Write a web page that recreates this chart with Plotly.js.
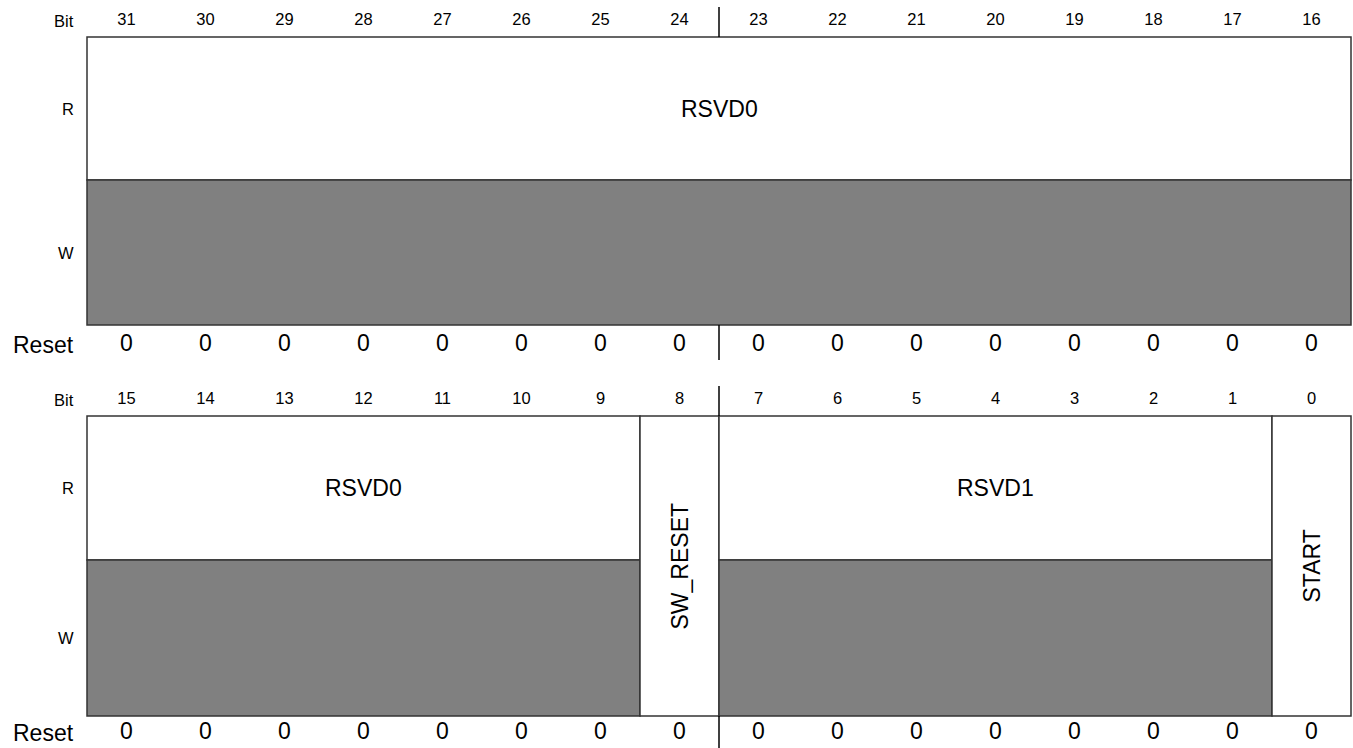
<!DOCTYPE html>
<html>
<head>
<meta charset="utf-8">
<script src="https://cdn.plot.ly/plotly-3.0.1.min.js"></script>
<style>html,body{margin:0;padding:0;background:#fff;}#chart{width:1353px;height:748px;}</style>
</head>
<body>
<div id="chart"></div>
<script>
// ---- data ----
const bitsUpper = [31,30,29,28,27,26,25,24,23,22,21,20,19,18,17,16];
const bitsLower = [15,14,13,12,11,10,9,8,7,6,5,4,3,2,1,0];
const resetUpper = [0,0,0,0,0,0,0,0,0,0,0,0,0,0,0,0];
const resetLower = [0,0,0,0,0,0,0,0,0,0,0,0,0,0,0,0];
// fields: name, msb, lsb, row (0 = upper word, 1 = lower word), readable, writable
const fieldNames    = ["RSVD0","RSVD0","SW_RESET","RSVD1","START"];
const fieldMsb      = [31, 15, 8, 7, 0];
const fieldLsb      = [16, 9, 8, 1, 0];
const fieldRow      = [0, 1, 1, 1, 1];
const fieldReadOnly = [true, true, false, true, false];
const rowLabels = ["Bit","R","W","Reset"];

// ---- layout geometry (pixels) ----
const W = 1353, H = 748;
const left = 87, cell = 79;
const rows = [
  {bitY:21, top:37, mid:180, bot:325, resetY:345, divTop:7, divBot:360},
  {bitY:400, top:416, mid:560, bot:716, resetY:733, divTop:386, divBot:748}
];
const lineColor = "#333333", lineW = 1.5, gray = "#808080";
const font = "Liberation Sans, Arial, Helvetica, sans-serif";
const smallSize = 16.5, bigSize = 23;

function col(bit){ return (bit >= 16) ? 31 - bit : 15 - bit; }

const shapes = [];
const annotations = [];

fieldNames.forEach((name, i) => {
  const r = rows[fieldRow[i]];
  const x0 = col(fieldMsb[i]), x1 = col(fieldLsb[i]) + 1;
  if (fieldReadOnly[i]) {
    shapes.push({type:"rect", xref:"x", yref:"y", x0:x0, x1:x1, y0:r.top, y1:r.mid,
      fillcolor:"#ffffff", line:{color:lineColor, width:lineW}, layer:"above"});
    shapes.push({type:"rect", xref:"x", yref:"y", x0:x0, x1:x1, y0:r.mid, y1:r.bot,
      fillcolor:gray, line:{color:lineColor, width:lineW}, layer:"above"});
    annotations.push({x:(x0+x1)/2, y:(r.top+r.mid)/2, xref:"x", yref:"y", text:name,
      showarrow:false, font:{family:font, size:bigSize, color:"#000"}});
  } else {
    shapes.push({type:"rect", xref:"x", yref:"y", x0:x0, x1:x1, y0:r.top, y1:r.bot,
      fillcolor:"#ffffff", line:{color:lineColor, width:lineW}, layer:"above"});
    annotations.push({x:(x0+x1)/2, y:(r.top+r.bot)/2, xref:"x", yref:"y", text:name, textangle:-90,
      showarrow:false, font:{family:font, size:bigSize, color:"#000"}});
  }
});

// half-word dividers
rows.forEach(r => {
  shapes.push({type:"line", xref:"x", yref:"y", x0:8, x1:8, y0:r.divTop, y1:r.top, line:{color:"#000", width:1.5}});
  shapes.push({type:"line", xref:"x", yref:"y", x0:8, x1:8, y0:r.bot, y1:r.divBot, line:{color:"#000", width:1.5}});
  // row labels
  const ys = [r.bitY, (r.top+r.mid)/2, (r.mid+r.bot)/2, r.resetY];
  const sizes = [smallSize, smallSize, smallSize, bigSize];
  rowLabels.forEach((t, k) => {
    annotations.push({x:76/W, y:ys[k], xref:"paper", yref:"y", xanchor:"right", text:t,
      showarrow:false, font:{family:font, size:sizes[k], color:"#000"}});
  });
});

const traces = [
  {x: bitsUpper.map(b => col(b)+0.5), y: bitsUpper.map(() => rows[0].bitY), text: bitsUpper.map(String)},
  {x: bitsLower.map(b => col(b)+0.5), y: bitsLower.map(() => rows[1].bitY), text: bitsLower.map(String)},
].map(t => Object.assign(t, {type:"scatter", mode:"text", textposition:"middle center",
  textfont:{family:font, size:smallSize, color:"#000"}, hoverinfo:"skip", showlegend:false}));

traces.push(
  {x: bitsUpper.map(b => col(b)+0.5), y: bitsUpper.map(() => rows[0].resetY), text: resetUpper.map(String)},
  {x: bitsLower.map(b => col(b)+0.5), y: bitsLower.map(() => rows[1].resetY), text: resetLower.map(String)}
);
traces.slice(2).forEach(t => Object.assign(t, {type:"scatter", mode:"text", textposition:"middle center",
  textfont:{family:font, size:bigSize, color:"#000"}, hoverinfo:"skip", showlegend:false}));

const layout = {
  width: W, height: H,
  margin: {l:0, r:0, t:0, b:0, pad:0},
  paper_bgcolor:"#ffffff", plot_bgcolor:"#ffffff",
  xaxis: {range:[-left/cell, (W-left)/cell], visible:false, fixedrange:true},
  yaxis: {range:[H, 0], visible:false, fixedrange:true},
  shapes: shapes,
  annotations: annotations,
  showlegend:false
};

Plotly.newPlot("chart", traces, layout, {displayModeBar:false, staticPlot:true});
</script>
</body>
</html>
